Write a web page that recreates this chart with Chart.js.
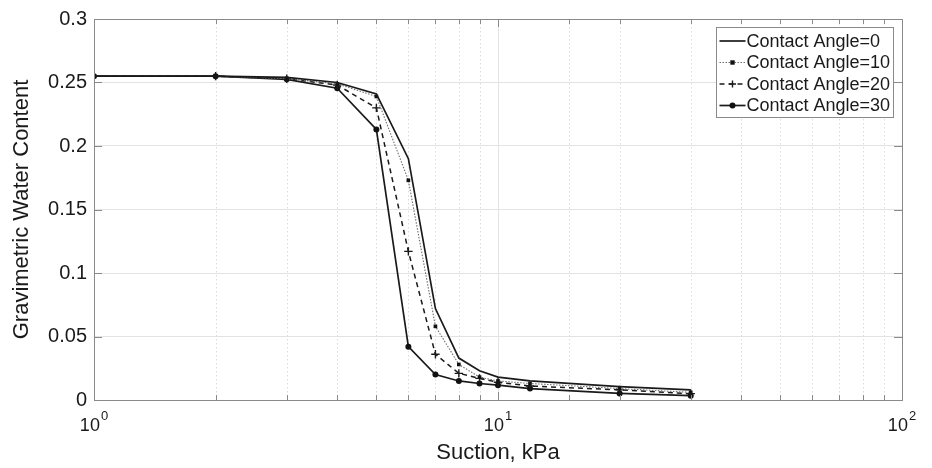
<!DOCTYPE html>
<html>
<head>
<meta charset="utf-8">
<script src="https://cdn.jsdelivr.net/npm/chart.js@4"></script>
<style>
html,body{margin:0;padding:0;background:#fff;}
#wrap{width:932px;height:468px;}
</style>
</head>
<body>
<div id="wrap"><canvas id="c" width="932" height="468"></canvas></div>
<script>
const suction = [1, 2, 3, 4, 5, 6, 7, 8, 9, 10, 12, 20, 30];
const angle0  = [0.255, 0.255, 0.254, 0.250, 0.241, 0.190, 0.072, 0.033, 0.023, 0.018, 0.015, 0.0105, 0.008];
const angle10 = [0.255, 0.255, 0.253, 0.249, 0.239, 0.173, 0.058, 0.028, 0.018, 0.015, 0.013, 0.009, 0.006];
const angle20 = [0.255, 0.255, 0.253, 0.248, 0.230, 0.117, 0.036, 0.021, 0.017, 0.014, 0.011, 0.008, 0.005];
const angle30 = [0.255, 0.255, 0.2525, 0.2455, 0.213, 0.042, 0.020, 0.015, 0.013, 0.0117, 0.009, 0.0052, 0.0034];
const seriesNames = ['Contact Angle=0', 'Contact Angle=10', 'Contact Angle=20', 'Contact Angle=30'];
const yTicks = [0, 0.05, 0.1, 0.15, 0.2, 0.25, 0.3];
const xTickBase = '10';
const xTickExponents = {1: '0', 10: '1', 100: '2'};

const FONT = 'Liberation Sans, Arial, Helvetica, sans-serif';
const toPts = arr => arr.map((v, i) => ({x: suction[i], y: v}));

const datasets = [
  {label: seriesNames[0], data: toPts(angle0), borderColor: '#1a1a1a', borderWidth: 1.7,
   pointRadius: 0, pointStyle: false},
  {label: seriesNames[1], data: toPts(angle10), borderColor: '#6e6e6e', borderWidth: 1.1,
   borderDash: [1.5, 1.5], pointStyle: 'rect', pointRadius: 2.6, pointBackgroundColor: '#111',
   pointBorderColor: '#111', pointBorderWidth: 0},
  {label: seriesNames[2], data: toPts(angle20), borderColor: '#1a1a1a', borderWidth: 1.5,
   borderDash: [5, 4], pointStyle: 'cross', pointRadius: 4.2, pointBorderColor: '#1a1a1a',
   pointBorderWidth: 1.4},
  {label: seriesNames[3], data: toPts(angle30), borderColor: '#1a1a1a', borderWidth: 1.7,
   pointStyle: 'circle', pointRadius: 3, pointBackgroundColor: '#111', pointBorderColor: '#111',
   pointBorderWidth: 0}
];

const isMajor = v => Math.abs(Math.log10(v) - Math.round(Math.log10(v))) < 1e-9;

const framePlugin = {
  id: 'frame',
  beforeDatasetsDraw(chart) {
    const {ctx, chartArea: a, scales: {x}} = chart;
    ctx.save();
    ctx.strokeStyle = '#dcdcdc';
    ctx.lineWidth = 1;
    ctx.setLineDash([1.5, 2.5]);
    x.ticks.forEach(t => {
      if (isMajor(t.value)) return;
      const px = Math.round(x.getPixelForValue(t.value)) + 0.5;
      ctx.beginPath(); ctx.moveTo(px, a.top); ctx.lineTo(px, a.bottom); ctx.stroke();
    });
    ctx.restore();
  },
  afterDatasetsDraw(chart) {
    const {ctx, chartArea: a, scales: {x, y}} = chart;
    ctx.save();
    ctx.strokeStyle = '#8a8a8a';
    ctx.lineWidth = 1;
    ctx.setLineDash([]);
    // box
    ctx.strokeRect(Math.round(a.left) + 0.5, Math.round(a.top) + 0.5,
                   Math.round(a.right - a.left), Math.round(a.bottom - a.top));
    // inner ticks
    x.ticks.forEach(t => {
      const px = Math.round(x.getPixelForValue(t.value)) + 0.5;
      const len = isMajor(t.value) ? 8 : 5;
      ctx.beginPath();
      ctx.moveTo(px, a.bottom); ctx.lineTo(px, a.bottom - len);
      ctx.moveTo(px, a.top); ctx.lineTo(px, a.top + len);
      ctx.stroke();
    });
    y.ticks.forEach(t => {
      const py = Math.round(y.getPixelForValue(t.value)) + 0.5;
      ctx.beginPath();
      ctx.moveTo(a.left, py); ctx.lineTo(a.left + 8, py);
      ctx.moveTo(a.right, py); ctx.lineTo(a.right - 8, py);
      ctx.stroke();
    });
    // x tick labels with superscript exponent
    ctx.fillStyle = '#1a1a1a';
    ctx.textBaseline = 'alphabetic';
    ctx.textAlign = 'left';
    Object.keys(xTickExponents).forEach(k => {
      const v = Number(k);
      const px = x.getPixelForValue(v);
      ctx.font = '18px ' + FONT;
      const w1 = ctx.measureText(xTickBase).width;
      ctx.font = '13px ' + FONT;
      const w2 = ctx.measureText(xTickExponents[k]).width;
      const sx = px - (w1 + w2 + 1) / 2;
      ctx.font = '18px ' + FONT;
      ctx.fillText(xTickBase, sx, a.bottom + 31);
      ctx.font = '13px ' + FONT;
      ctx.fillText(xTickExponents[k], sx + w1 + 1, a.bottom + 20);
    });
    // legend
    const bw = 177, bh = 90;
    const bx = Math.round(a.right - 186) + 0.5, by = Math.round(a.top + 8) + 0.5;
    ctx.fillStyle = '#fff';
    ctx.fillRect(bx, by, bw, bh);
    ctx.strokeStyle = '#8a8a8a';
    ctx.strokeRect(bx, by, bw, bh);
    ctx.font = '18px ' + FONT;
    ctx.textBaseline = 'middle';
    ctx.textAlign = 'left';
    chart.data.datasets.forEach((ds, i) => {
      const cy = by + 13.5 + i * 21.5;
      const x0 = bx + 3, x1 = bx + 29, xm = (x0 + x1) / 2;
      ctx.save();
      ctx.strokeStyle = ds.borderColor;
      ctx.lineWidth = ds.borderWidth;
      ctx.setLineDash(ds.borderDash || []);
      ctx.beginPath(); ctx.moveTo(x0, cy); ctx.lineTo(x1, cy); ctx.stroke();
      ctx.restore();
      if (ds.pointStyle && ds.pointRadius) {
        ctx.fillStyle = ds.pointBackgroundColor || '#111';
        ctx.strokeStyle = ds.pointBorderColor || '#111';
        ctx.lineWidth = ds.pointBorderWidth || 1;
        ctx.beginPath();
        if (ds.pointStyle === 'circle') { ctx.arc(xm, cy, 3, 0, Math.PI * 2); ctx.fill(); }
        else if (ds.pointStyle === 'rect') { ctx.fillRect(xm - 2.2, cy - 2.2, 4.4, 4.4); }
        else if (ds.pointStyle === 'cross') {
          ctx.moveTo(xm - 3.5, cy); ctx.lineTo(xm + 3.5, cy);
          ctx.moveTo(xm, cy - 3.5); ctx.lineTo(xm, cy + 3.5); ctx.stroke();
        }
      }
      ctx.fillStyle = '#1a1a1a';
      ctx.fillText(ds.label, bx + 30, cy + 1);
    });
    ctx.restore();
  }
};

new Chart(document.getElementById('c'), {
  type: 'line',
  data: {datasets},
  plugins: [framePlugin],
  options: {
    responsive: false,
    animation: false,
    events: [],
    layout: {padding: {left: 0, right: 30, top: 17, bottom: 0}},
    plugins: {legend: {display: false}, tooltip: {enabled: false}, title: {display: false}},
    elements: {line: {tension: 0}},
    scales: {
      x: {
        type: 'logarithmic', min: 1, max: 100,
        afterFit(s) { s.height = 68; },
        grid: {
          drawTicks: false,
          color: c => (c.tick && isMajor(c.tick.value)) ? '#e3e3e3' : 'rgba(0,0,0,0)',
          lineWidth: 1
        },
        border: {display: false},
        ticks: {
          autoSkip: false, maxRotation: 0, padding: 12, color: '#1a1a1a',
          font: {family: FONT, size: 18},
          callback: () => ''
        },
        title: {display: true, text: 'Suction, kPa', color: '#1a1a1a',
                font: {family: FONT, size: 22}, padding: {top: 0, bottom: 2}}
      },
      y: {
        type: 'linear', min: 0, max: 0.3,
        afterFit(s) { s.width = 94; },
        afterBuildTicks(s) { s.ticks = yTicks.map(v => ({value: v})); },
        grid: {drawTicks: false, color: '#e3e3e3', lineWidth: 1},
        border: {display: false},
        ticks: {
          padding: 7, color: '#1a1a1a', font: {family: FONT, size: 20},
          callback: v => String(Number(v.toFixed(2)))
        },
        title: {display: true, text: 'Gravimetric Water Content', color: '#1a1a1a',
                font: {family: FONT, size: 22}, padding: {top: 9, bottom: 0}}
      }
    }
  }
});
</script>
</body>
</html>
